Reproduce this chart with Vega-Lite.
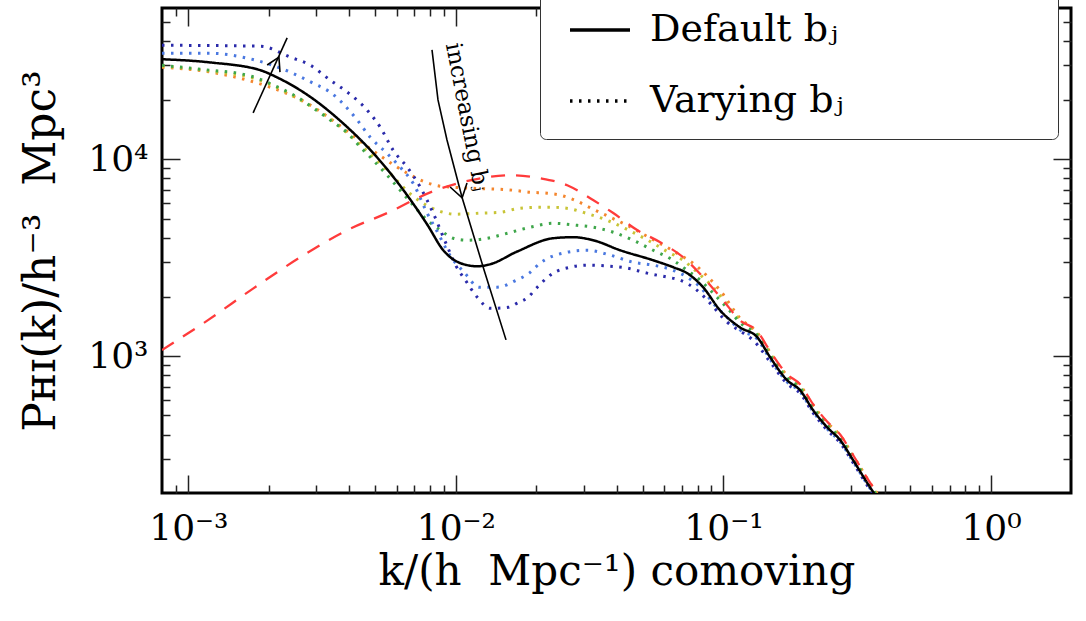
{
  "$schema": "https://vega.github.io/schema/vega-lite/v6.json",
  "width": 909,
  "height": 485,
  "autosize": {"type": "none"},
  "padding": {"left": 162, "top": 8, "right": 15, "bottom": 128},
  "background": "white",
  "config": {
    "view": {"stroke": "black", "strokeWidth": 3},
    "axis": {"domain": false, "grid": false, "tickColor": "#222", "tickWidth": 1.5, "labelColor": "black", "titleColor": "black", "labelFont": "DejaVu Serif", "titleFont": "DejaVu Serif", "titleFontWeight": "normal", "labelFlush": false, "labelOverlap": false, "labelBound": false}
  },
  "datasets": {
    "curves": [
      {"series": "red", "k": 0.000797, "P": 1075},
      {"series": "red", "k": 0.00118, "P": 1520},
      {"series": "red", "k": 0.00175, "P": 2210},
      {"series": "red", "k": 0.00262, "P": 3180},
      {"series": "red", "k": 0.00393, "P": 4370},
      {"series": "red", "k": 0.00553, "P": 5330},
      {"series": "red", "k": 0.00822, "P": 6880},
      {"series": "red", "k": 0.01131, "P": 7820},
      {"series": "red", "k": 0.01595, "P": 8300},
      {"series": "red", "k": 0.02064, "P": 8010},
      {"series": "red", "k": 0.02606, "P": 7380},
      {"series": "red", "k": 0.03175, "P": 6340},
      {"series": "red", "k": 0.03873, "P": 5330},
      {"series": "red", "k": 0.04757, "P": 4370},
      {"series": "red", "k": 0.058, "P": 3790},
      {"series": "red", "k": 0.07066, "P": 3180},
      {"series": "red", "k": 0.0839, "P": 2520},
      {"series": "red", "k": 0.0997, "P": 1920},
      {"series": "red", "k": 0.1153, "P": 1520},
      {"series": "red", "k": 0.1336, "P": 1340},
      {"series": "red", "k": 0.1494, "P": 1060},
      {"series": "red", "k": 0.1729, "P": 810},
      {"series": "red", "k": 0.1933, "P": 720},
      {"series": "red", "k": 0.2163, "P": 570},
      {"series": "red", "k": 0.2439, "P": 466},
      {"series": "red", "k": 0.2729, "P": 400},
      {"series": "red", "k": 0.305, "P": 315},
      {"series": "red", "k": 0.353, "P": 228},
      {"series": "red", "k": 0.385, "P": 192},

      {"series": "black", "k": 0.000797, "P": 32200},
      {"series": "black", "k": 0.00121, "P": 31000},
      {"series": "black", "k": 0.00186, "P": 28300},
      {"series": "black", "k": 0.00215, "P": 26000},
      {"series": "black", "k": 0.00286, "P": 20700},
      {"series": "black", "k": 0.00379, "P": 15200},
      {"series": "black", "k": 0.00508, "P": 10200},
      {"series": "black", "k": 0.00635, "P": 7000},
      {"series": "black", "k": 0.00782, "P": 4650},
      {"series": "black", "k": 0.00897, "P": 3450},
      {"series": "black", "k": 0.01038, "P": 2970},
      {"series": "black", "k": 0.01202, "P": 2860},
      {"series": "black", "k": 0.01343, "P": 2930},
      {"series": "black", "k": 0.01694, "P": 3400},
      {"series": "black", "k": 0.02308, "P": 3970},
      {"series": "black", "k": 0.02741, "P": 4020},
      {"series": "black", "k": 0.03257, "P": 3880},
      {"series": "black", "k": 0.04111, "P": 3450},
      {"series": "black", "k": 0.0546, "P": 3070},
      {"series": "black", "k": 0.06486, "P": 2830},
      {"series": "black", "k": 0.0731, "P": 2640},
      {"series": "black", "k": 0.0839, "P": 2240},
      {"series": "black", "k": 0.0971, "P": 1710},
      {"series": "black", "k": 0.1153, "P": 1400},
      {"series": "black", "k": 0.1336, "P": 1250},
      {"series": "black", "k": 0.1494, "P": 988},
      {"series": "black", "k": 0.1729, "P": 755},
      {"series": "black", "k": 0.1933, "P": 672},
      {"series": "black", "k": 0.2163, "P": 532},
      {"series": "black", "k": 0.2439, "P": 436},
      {"series": "black", "k": 0.2729, "P": 375},
      {"series": "black", "k": 0.305, "P": 297},
      {"series": "black", "k": 0.353, "P": 216},
      {"series": "black", "k": 0.385, "P": 182},

      {"series": "orange", "k": 0.000797, "P": 29300},
      {"series": "orange", "k": 0.00121, "P": 27700},
      {"series": "orange", "k": 0.00166, "P": 25200},
      {"series": "orange", "k": 0.00208, "P": 22900},
      {"series": "orange", "k": 0.00279, "P": 19200},
      {"series": "orange", "k": 0.00339, "P": 16100},
      {"series": "orange", "k": 0.0044, "P": 12300},
      {"series": "orange", "k": 0.00522, "P": 10400},
      {"series": "orange", "k": 0.00658, "P": 8490},
      {"series": "orange", "k": 0.00755, "P": 7730},
      {"series": "orange", "k": 0.00873, "P": 7300},
      {"series": "orange", "k": 0.01131, "P": 7130},
      {"series": "orange", "k": 0.01637, "P": 6960},
      {"series": "orange", "k": 0.01897, "P": 6800},
      {"series": "orange", "k": 0.02193, "P": 6720},
      {"series": "orange", "k": 0.02453, "P": 6570},
      {"series": "orange", "k": 0.02839, "P": 6120},
      {"series": "orange", "k": 0.03257, "P": 5570},
      {"series": "orange", "k": 0.03767, "P": 5080},
      {"series": "orange", "k": 0.04362, "P": 4620},
      {"series": "orange", "k": 0.05182, "P": 4060},
      {"series": "orange", "k": 0.06156, "P": 3570},
      {"series": "orange", "k": 0.0689, "P": 3260},
      {"series": "orange", "k": 0.0769, "P": 2970},
      {"series": "orange", "k": 0.0869, "P": 2550},
      {"series": "orange", "k": 0.0971, "P": 2160},
      {"series": "orange", "k": 0.1153, "P": 1560},
      {"series": "orange", "k": 0.1336, "P": 1320},
      {"series": "orange", "k": 0.1494, "P": 1045},
      {"series": "orange", "k": 0.1729, "P": 800},
      {"series": "orange", "k": 0.1933, "P": 712},
      {"series": "orange", "k": 0.2163, "P": 563},
      {"series": "orange", "k": 0.2439, "P": 460},
      {"series": "orange", "k": 0.2729, "P": 396},
      {"series": "orange", "k": 0.305, "P": 313},
      {"series": "orange", "k": 0.353, "P": 227},
      {"series": "orange", "k": 0.385, "P": 191},

      {"series": "yellow", "k": 0.000797, "P": 29700},
      {"series": "yellow", "k": 0.00121, "P": 28000},
      {"series": "yellow", "k": 0.00181, "P": 25400},
      {"series": "yellow", "k": 0.00255, "P": 20400},
      {"series": "yellow", "k": 0.00339, "P": 16000},
      {"series": "yellow", "k": 0.0044, "P": 11800},
      {"series": "yellow", "k": 0.00553, "P": 8790},
      {"series": "yellow", "k": 0.00692, "P": 6490},
      {"series": "yellow", "k": 0.00851, "P": 5510},
      {"series": "yellow", "k": 0.00993, "P": 5260},
      {"series": "yellow", "k": 0.01253, "P": 5330},
      {"series": "yellow", "k": 0.01462, "P": 5380},
      {"series": "yellow", "k": 0.01738, "P": 5640},
      {"series": "yellow", "k": 0.02014, "P": 5700},
      {"series": "yellow", "k": 0.02308, "P": 5700},
      {"series": "yellow", "k": 0.02673, "P": 5600},
      {"series": "yellow", "k": 0.03093, "P": 5300},
      {"series": "yellow", "k": 0.03673, "P": 4900},
      {"series": "yellow", "k": 0.04362, "P": 4400},
      {"series": "yellow", "k": 0.05182, "P": 3900},
      {"series": "yellow", "k": 0.06156, "P": 3400},
      {"series": "yellow", "k": 0.07066, "P": 3070},
      {"series": "yellow", "k": 0.0797, "P": 2670},
      {"series": "yellow", "k": 0.0915, "P": 2240},
      {"series": "yellow", "k": 0.1059, "P": 1750},
      {"series": "yellow", "k": 0.1153, "P": 1530},
      {"series": "yellow", "k": 0.1336, "P": 1300},
      {"series": "yellow", "k": 0.1494, "P": 1030},
      {"series": "yellow", "k": 0.1729, "P": 788},
      {"series": "yellow", "k": 0.1933, "P": 700},
      {"series": "yellow", "k": 0.2163, "P": 555},
      {"series": "yellow", "k": 0.2439, "P": 453},
      {"series": "yellow", "k": 0.2729, "P": 390},
      {"series": "yellow", "k": 0.305, "P": 308},
      {"series": "yellow", "k": 0.353, "P": 224},
      {"series": "yellow", "k": 0.385, "P": 188},

      {"series": "green", "k": 0.000797, "P": 30000},
      {"series": "green", "k": 0.00121, "P": 28300},
      {"series": "green", "k": 0.00152, "P": 27400},
      {"series": "green", "k": 0.00181, "P": 25800},
      {"series": "green", "k": 0.00208, "P": 23800},
      {"series": "green", "k": 0.00255, "P": 20700},
      {"series": "green", "k": 0.00293, "P": 18200},
      {"series": "green", "k": 0.00339, "P": 15800},
      {"series": "green", "k": 0.00393, "P": 13600},
      {"series": "green", "k": 0.0044, "P": 11500},
      {"series": "green", "k": 0.00491, "P": 9880},
      {"series": "green", "k": 0.00553, "P": 8300},
      {"series": "green", "k": 0.00619, "P": 6960},
      {"series": "green", "k": 0.00692, "P": 5840},
      {"series": "green", "k": 0.00782, "P": 4900},
      {"series": "green", "k": 0.00873, "P": 4370},
      {"series": "green", "k": 0.00977, "P": 3970},
      {"series": "green", "k": 0.01102, "P": 3880},
      {"series": "green", "k": 0.0131, "P": 3970},
      {"series": "green", "k": 0.01557, "P": 4210},
      {"series": "green", "k": 0.01897, "P": 4520},
      {"series": "green", "k": 0.02308, "P": 4730},
      {"series": "green", "k": 0.02839, "P": 4620},
      {"series": "green", "k": 0.03257, "P": 4520},
      {"series": "green", "k": 0.03873, "P": 4260},
      {"series": "green", "k": 0.04592, "P": 3880},
      {"series": "green", "k": 0.0546, "P": 3450},
      {"series": "green", "k": 0.06486, "P": 3070},
      {"series": "green", "k": 0.0731, "P": 2730},
      {"series": "green", "k": 0.0819, "P": 2430},
      {"series": "green", "k": 0.0915, "P": 2090},
      {"series": "green", "k": 0.1059, "P": 1690},
      {"series": "green", "k": 0.1153, "P": 1480},
      {"series": "green", "k": 0.1336, "P": 1280},
      {"series": "green", "k": 0.1494, "P": 1010},
      {"series": "green", "k": 0.1729, "P": 775},
      {"series": "green", "k": 0.1933, "P": 688},
      {"series": "green", "k": 0.2163, "P": 546},
      {"series": "green", "k": 0.2439, "P": 447},
      {"series": "green", "k": 0.2729, "P": 384},
      {"series": "green", "k": 0.305, "P": 304},
      {"series": "green", "k": 0.353, "P": 221},
      {"series": "green", "k": 0.385, "P": 186},

      {"series": "blue", "k": 0.000797, "P": 34500},
      {"series": "blue", "k": 0.00121, "P": 34500},
      {"series": "blue", "k": 0.00166, "P": 32600},
      {"series": "blue", "k": 0.0024, "P": 27700},
      {"series": "blue", "k": 0.00293, "P": 24300},
      {"series": "blue", "k": 0.00339, "P": 21900},
      {"series": "blue", "k": 0.00428, "P": 15800},
      {"series": "blue", "k": 0.00479, "P": 12900},
      {"series": "blue", "k": 0.00553, "P": 10700},
      {"series": "blue", "k": 0.00619, "P": 9110},
      {"series": "blue", "k": 0.00692, "P": 7550},
      {"series": "blue", "k": 0.00782, "P": 5300},
      {"series": "blue", "k": 0.00851, "P": 4300},
      {"series": "blue", "k": 0.0095, "P": 3250},
      {"series": "blue", "k": 0.0108, "P": 2640},
      {"series": "blue", "k": 0.0122, "P": 2240},
      {"series": "blue", "k": 0.01425, "P": 2240},
      {"series": "blue", "k": 0.0168, "P": 2430},
      {"series": "blue", "k": 0.0188, "P": 2640},
      {"series": "blue", "k": 0.02064, "P": 2970},
      {"series": "blue", "k": 0.02518, "P": 3340},
      {"series": "blue", "k": 0.03093, "P": 3450},
      {"series": "blue", "k": 0.03767, "P": 3260},
      {"series": "blue", "k": 0.04592, "P": 3000},
      {"series": "blue", "k": 0.0546, "P": 2900},
      {"series": "blue", "k": 0.06486, "P": 2730},
      {"series": "blue", "k": 0.0731, "P": 2520},
      {"series": "blue", "k": 0.0819, "P": 2240},
      {"series": "blue", "k": 0.0915, "P": 1860},
      {"series": "blue", "k": 0.1059, "P": 1520},
      {"series": "blue", "k": 0.1153, "P": 1360},
      {"series": "blue", "k": 0.1336, "P": 1225},
      {"series": "blue", "k": 0.1494, "P": 965},
      {"series": "blue", "k": 0.1729, "P": 740},
      {"series": "blue", "k": 0.1933, "P": 660},
      {"series": "blue", "k": 0.2163, "P": 522},
      {"series": "blue", "k": 0.2439, "P": 428},
      {"series": "blue", "k": 0.2729, "P": 368},
      {"series": "blue", "k": 0.305, "P": 292},
      {"series": "blue", "k": 0.353, "P": 213},
      {"series": "blue", "k": 0.385, "P": 180},

      {"series": "navy", "k": 0.000797, "P": 37900},
      {"series": "navy", "k": 0.00186, "P": 37500},
      {"series": "navy", "k": 0.0024, "P": 33000},
      {"series": "navy", "k": 0.00286, "P": 30000},
      {"series": "navy", "k": 0.00339, "P": 25200},
      {"series": "navy", "k": 0.00393, "P": 21900},
      {"series": "navy", "k": 0.00467, "P": 17700},
      {"series": "navy", "k": 0.00522, "P": 14500},
      {"series": "navy", "k": 0.00583, "P": 11100},
      {"series": "navy", "k": 0.00658, "P": 9110},
      {"series": "navy", "k": 0.00736, "P": 7210},
      {"series": "navy", "k": 0.00822, "P": 5330},
      {"series": "navy", "k": 0.00929, "P": 3600},
      {"series": "navy", "k": 0.01, "P": 2880},
      {"series": "navy", "k": 0.01085, "P": 2430},
      {"series": "navy", "k": 0.01202, "P": 1990},
      {"series": "navy", "k": 0.01343, "P": 1750},
      {"series": "navy", "k": 0.01567, "P": 1770},
      {"series": "navy", "k": 0.01694, "P": 1860},
      {"series": "navy", "k": 0.0186, "P": 1990},
      {"series": "navy", "k": 0.02014, "P": 2240},
      {"series": "navy", "k": 0.02308, "P": 2640},
      {"series": "navy", "k": 0.02673, "P": 2830},
      {"series": "navy", "k": 0.03093, "P": 2900},
      {"series": "navy", "k": 0.03673, "P": 2870},
      {"series": "navy", "k": 0.04362, "P": 2800},
      {"series": "navy", "k": 0.05182, "P": 2640},
      {"series": "navy", "k": 0.06156, "P": 2520},
      {"series": "navy", "k": 0.0689, "P": 2430},
      {"series": "navy", "k": 0.0797, "P": 2160},
      {"series": "navy", "k": 0.0891, "P": 1860},
      {"series": "navy", "k": 0.1031, "P": 1490},
      {"series": "navy", "k": 0.1184, "P": 1310},
      {"series": "navy", "k": 0.1291, "P": 1205},
      {"series": "navy", "k": 0.1494, "P": 935},
      {"series": "navy", "k": 0.1729, "P": 725},
      {"series": "navy", "k": 0.1933, "P": 648},
      {"series": "navy", "k": 0.2163, "P": 515},
      {"series": "navy", "k": 0.2439, "P": 422},
      {"series": "navy", "k": 0.2729, "P": 363},
      {"series": "navy", "k": 0.305, "P": 288},
      {"series": "navy", "k": 0.353, "P": 210},
      {"series": "navy", "k": 0.385, "P": 178}
    ],
    "arrows": [
      {"seg": "a1", "o": 1, "k": 0.001746, "P": 17200},
      {"seg": "a1", "o": 2, "k": 0.00234, "P": 41300},
      {"seg": "h1", "o": 1, "k": 0.00197, "P": 30100},
      {"seg": "h1", "o": 2, "k": 0.00218, "P": 33000},
      {"seg": "h1", "o": 3, "k": 0.0022, "P": 27700},
      {"seg": "a2", "o": 1, "k": 0.00814, "P": 35900},
      {"seg": "a2", "o": 2, "k": 0.00857, "P": 20000},
      {"seg": "a2", "o": 3, "k": 0.00926, "P": 12530},
      {"seg": "a2", "o": 4, "k": 0.01055, "P": 6370},
      {"seg": "a2", "o": 5, "k": 0.01274, "P": 2740},
      {"seg": "a2", "o": 6, "k": 0.01539, "P": 1210},
      {"seg": "h2", "o": 1, "k": 0.00951, "P": 7230},
      {"seg": "h2", "o": 2, "k": 0.01055, "P": 6370},
      {"seg": "h2", "o": 3, "k": 0.011, "P": 7580}
    ],
    "notes": [
      {"k": 0.011, "P": 16400, "label": "increasing bⱼ"}
    ]
  },
  "resolve": {"axis": {"x": "independent", "y": "independent"}},
  "layer": [
    {
      "data": {"name": "curves"},
      "transform": [{"filter": "datum.series !== 'red' && datum.series !== 'black'"}],
      "mark": {"type": "line", "strokeWidth": 3, "interpolate": "monotone", "clip": true},
      "encoding": {
        "x": {"field": "k", "type": "quantitative", "scale": {"type": "log", "domain": [0.000797, 1.99], "nice": false},
              "axis": {"orient": "top", "values": [0.0009, 0.001, 0.002, 0.003, 0.004, 0.005, 0.006, 0.007, 0.008, 0.009, 0.01, 0.02, 0.03, 0.04, 0.05, 0.06, 0.07, 0.08, 0.09, 0.1, 0.2, 0.3, 0.4, 0.5, 0.6, 0.7, 0.8, 0.9, 1],
                       "tickSize": {"condition": {"test": "datum.value === 0.001 || datum.value === 0.01 || datum.value === 0.1 || datum.value === 1", "value": -18}, "value": -8},
                       "labels": false, "title": null}},
        "y": {"field": "P", "type": "quantitative", "scale": {"type": "log", "domain": [202, 58600], "nice": false},
              "axis": {"orient": "right", "values": [300, 400, 500, 600, 700, 800, 900, 1000, 2000, 3000, 4000, 5000, 6000, 7000, 8000, 9000, 10000, 20000, 30000, 40000, 50000],
                       "tickSize": {"condition": {"test": "datum.value === 1000 || datum.value === 10000", "value": -18}, "value": -8},
                       "labels": false, "title": null}},
        "color": {"field": "series", "type": "nominal", "legend": null,
                  "scale": {"domain": ["orange", "yellow", "green", "blue", "navy"], "range": ["#f4862e", "#c8c436", "#3ea64a", "#4a78e0", "#2a2aaa"]}},
        "strokeDash": {"datum": "Varying bⱼ", "type": "nominal",
                       "scale": {"domain": ["Default bⱼ", "Varying bⱼ"], "range": [[1, 0], [2.5, 6.5]]}}
      }
    },
    {
      "data": {"name": "curves"},
      "transform": [{"filter": "datum.series === 'black'"}],
      "mark": {"type": "line", "strokeWidth": 2.5, "color": "black", "interpolate": "monotone", "clip": true},
      "encoding": {
        "x": {"field": "k", "type": "quantitative", "scale": {"type": "log", "domain": [0.000797, 1.99], "nice": false}, "axis": null},
        "y": {"field": "P", "type": "quantitative", "scale": {"type": "log", "domain": [202, 58600], "nice": false}, "axis": null},
        "strokeDash": {"datum": "Default bⱼ", "type": "nominal",
                       "legend": {"orient": "none", "legendX": 378, "legendY": -29, "title": null,
                                  "symbolType": "stroke", "symbolSize": 3600, "symbolStrokeWidth": 3.5,
                                  "symbolOffset": 9, "labelOffset": 18, "rowPadding": 20, "padding": 19,
                                  "labelFont": "DejaVu Serif", "labelFontSize": 38, "labelLimit": 900, "labelColor": "black",
                                  "labelExpr": "datum.label + '\u2800\u2800\u2800\u2800\u2800\u2800\u2800'",
                                  "strokeColor": "#333", "cornerRadius": 6, "fillColor": "white",
                                  "encode": {"legend": {"update": {"strokeWidth": {"value": 2}}},
                                             "symbols": {"update": {"stroke": {"signal": "datum.value === 'Varying bⱼ' ? '#3ea64a' : 'black'"}}}}}}
      }
    },
    {
      "data": {"name": "curves"},
      "transform": [{"filter": "datum.series === 'red'"}],
      "mark": {"type": "line", "strokeWidth": 2.3, "color": "#ff3b3b", "strokeDash": [14, 11], "interpolate": "monotone", "clip": true},
      "encoding": {
        "x": {"field": "k", "type": "quantitative", "scale": {"type": "log", "domain": [0.000797, 1.99], "nice": false},
              "axis": {"orient": "bottom", "values": [0.0009, 0.001, 0.002, 0.003, 0.004, 0.005, 0.006, 0.007, 0.008, 0.009, 0.01, 0.02, 0.03, 0.04, 0.05, 0.06, 0.07, 0.08, 0.09, 0.1, 0.2, 0.3, 0.4, 0.5, 0.6, 0.7, 0.8, 0.9, 1],
                       "tickSize": {"condition": {"test": "datum.value === 0.001 || datum.value === 0.01 || datum.value === 0.1 || datum.value === 1", "value": -18}, "value": -8},
                       "labelPadding": {"condition": {"test": "datum.value === 0.001 || datum.value === 0.01 || datum.value === 0.1 || datum.value === 1", "value": 36}, "value": 26},
                       "labelFontSize": 36,
                       "labelExpr": "datum.value === 0.001 ? '10⁻³' : datum.value === 0.01 ? '10⁻²' : datum.value === 0.1 ? '10⁻¹' : datum.value === 1 ? '10⁰' : ''",
                       "title": "k/(h\u00a0 Mpc⁻¹) comoving", "titleFontSize": 42, "titlePadding": 5}},
        "y": {"field": "P", "type": "quantitative", "scale": {"type": "log", "domain": [202, 58600], "nice": false},
              "axis": {"orient": "left", "values": [300, 400, 500, 600, 700, 800, 900, 1000, 2000, 3000, 4000, 5000, 6000, 7000, 8000, 9000, 10000, 20000, 30000, 40000, 50000],
                       "tickSize": {"condition": {"test": "datum.value === 1000 || datum.value === 10000", "value": -18}, "value": -8},
                       "labelPadding": {"condition": {"test": "datum.value === 1000 || datum.value === 10000", "value": 32}, "value": 22},
                       "labelFontSize": 36,
                       "labelExpr": "datum.value === 10000 ? '10⁴' : datum.value === 1000 ? '10³' : ''",
                       "title": "Pʜɪ(k)/h⁻³\u00a0 Mpc³", "titleFontSize": 44, "titlePadding": 24}}
      }
    },
    {
      "data": {"name": "arrows"},
      "mark": {"type": "line", "strokeWidth": 1.6, "color": "black", "clip": true},
      "encoding": {
        "x": {"field": "k", "type": "quantitative", "scale": {"type": "log", "domain": [0.000797, 1.99], "nice": false}, "axis": null},
        "y": {"field": "P", "type": "quantitative", "scale": {"type": "log", "domain": [202, 58600], "nice": false}, "axis": null},
        "detail": {"field": "seg", "type": "nominal"},
        "order": {"field": "o", "type": "quantitative"}
      }
    },
    {
      "data": {"name": "notes"},
      "mark": {"type": "text", "angle": 79, "font": "DejaVu Serif", "fontSize": 23, "color": "black", "align": "center", "baseline": "middle"},
      "encoding": {
        "x": {"field": "k", "type": "quantitative", "scale": {"type": "log", "domain": [0.000797, 1.99], "nice": false}, "axis": null},
        "y": {"field": "P", "type": "quantitative", "scale": {"type": "log", "domain": [202, 58600], "nice": false}, "axis": null},
        "text": {"field": "label"}
      }
    }
  ]
}
